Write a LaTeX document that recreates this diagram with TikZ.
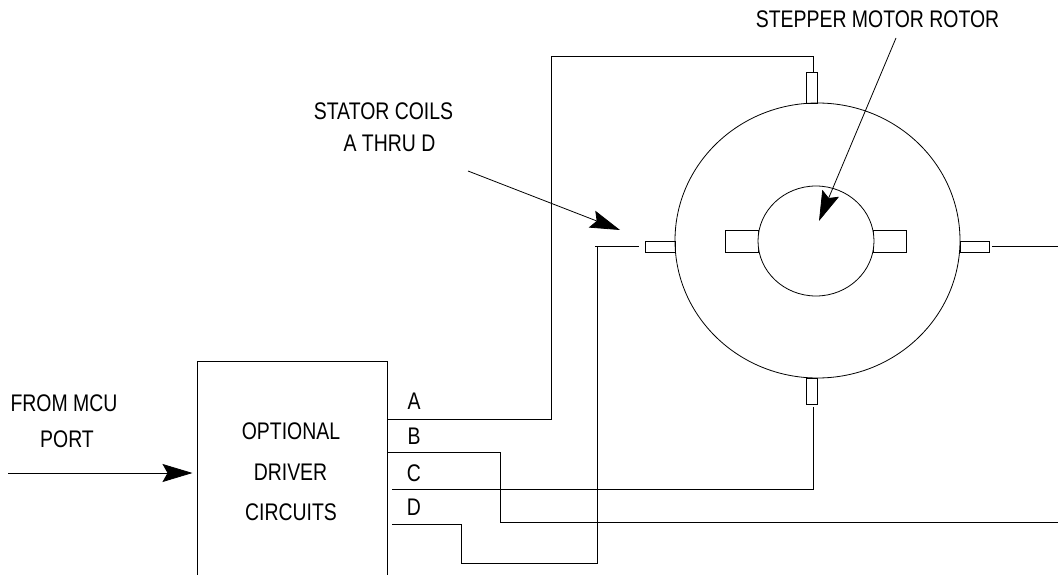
\documentclass[tikz,border=0pt]{standalone}
\usepackage{fontspec}
\setmainfont{Liberation Sans}
\usetikzlibrary{arrows.meta,shapes.geometric}
\tikzset{
  lbl/.style={inner sep=0pt,font=\fontsize{24}{24}\selectfont,xscale=0.81},
  part/.style={draw,fill=white,inner sep=0pt},
  pointer/.style={-{Stealth[length=30pt,width=18pt,inset=5pt]}}
}

\begin{document}
\begin{tikzpicture}[x=1pt,y=-1pt,line width=0.8pt]
  \useasboundingbox (0,0) rectangle (1058,575);

  % rotor and stator
  \node[part,minimum width=33pt,minimum height=22pt] (barL) at (741.5,241) {};
  \node[part,minimum width=33pt,minimum height=22pt] (barR) at (890,241) {};
  \node[part,minimum width=30pt,minimum height=11pt] (coilL) at (660,246.5) {};
  \node[part,minimum width=29pt,minimum height=11pt] (coilR) at (974.5,246.5) {};
  \node[part,minimum width=11pt,minimum height=31pt] (coilT) at (811.5,87.5) {};
  \node[part,minimum width=11pt,minimum height=26pt] (coilB) at (811.5,391) {};
  \node[part,ellipse,fill=none,minimum width=285pt,minimum height=275pt] (stator) at (817.5,240.5) {};
  \node[part,ellipse,minimum width=116pt,minimum height=110pt] (rotor) at (816,241) {};

  % driver
  \node[draw,minimum width=190pt,minimum height=229pt,inner sep=0pt] (driver) at (292,475.5) {};
  \node[lbl] (optional) at (291,431) {OPTIONAL};
  \node[lbl] (drv) at (290.5,472) {DRIVER};
  \node[lbl] (circ) at (291,512) {CIRCUITS};
  \node[lbl] (la) at (414,401) {A};
  \node[lbl] (lb) at (414,436) {B};
  \node[lbl] (lc) at (414,473) {C};
  \node[lbl] (ld) at (414,507) {D};
  \node[lbl] (from) at (64,403.5) {FROM MCU};
  \node[lbl] (port) at (67,439) {PORT};
  \node[lbl] (stat) at (383.5,111) {STATOR COILS};
  \node[lbl] (thru) at (389.5,143) {A THRU D};
  \node[lbl] (motor) at (877.5,19.5) {STEPPER MOTOR ROTOR};

  \coordinate (inA) at (8,473);
  \coordinate (inB) at (192.5,473);
  \coordinate (aOut) at (387,419);
  \coordinate (bOut) at (387,452);
  \coordinate (cOut) at (392,489);
  \coordinate (dOut) at (392,524);
  \coordinate (coilLend) at (639,246);
  \coordinate (coilLbend) at (595,246);
  \coordinate (coilRend) at (992,246);
  \coordinate (edge) at (1058,246);
  \coordinate (coilBend) at (813,407);
  \coordinate (statS) at (468,171);
  \coordinate (statE) at (620,230);
  \coordinate (motS) at (896,38);
  \coordinate (motE) at (819,221);

  % wires
  \draw (aOut) -- (551,419) -- (551,56) -- (813,56) -- (813,72);
  \draw (bOut) -- (500,452) -- (500,522) -- (1058,522);
  \draw (cOut) -- (813,489) -- (coilBend);
  \draw (dOut) -- (461,524) -- (461,563) -- (597,563) -- (597,246);
  \draw (coilLbend) -- (coilLend);
  \draw (coilRend) -- (edge);

  % arrows
  \draw[pointer] (inA) -- (inB);
  \draw[pointer] (statS) -- (statE);
  \draw[pointer] (motS) -- (motE);
\end{tikzpicture}
\end{document}
